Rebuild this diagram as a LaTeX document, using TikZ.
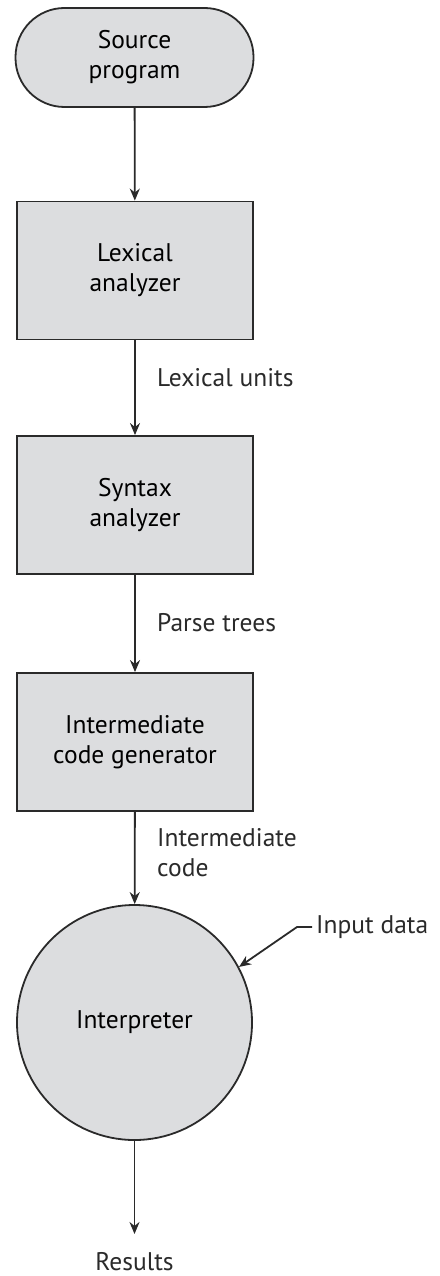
\documentclass[tikz,border=0pt]{standalone}
\usepackage{fontspec}
\setmainfont{PT Sans}
\usetikzlibrary{arrows.meta}
\definecolor{boxfill}{HTML}{DCDDDF}
\definecolor{ink}{HTML}{2A2A2A}
\tikzset{
  base/.style={draw=ink, line width=1.8pt, fill=boxfill, align=center, font=\fontsize{25.5}{30}\selectfont, inner sep=0pt},
  procbox/.style={base, rectangle, minimum width=236pt, minimum height=138pt},
  termbox/.style={base, rectangle, rounded corners=49pt, minimum width=238pt, minimum height=99pt},
  circbox/.style={base, circle, minimum size=235pt},
  lbl/.style={font=\fontsize{25.5}{30}\selectfont, align=left, inner sep=0pt, text=ink},
  flow/.style={draw=ink, line width=1.8pt, -{Stealth[length=12pt,width=10pt]}}
}
\begin{document}
\begin{tikzpicture}[x=1pt,y=-1pt]
\useasboundingbox (0,0) rectangle (439,1276);
\node[termbox] (src) at (134.5,57.5) {Source\\program};
\node[procbox] (lex) at (135,270.5) {Lexical\\analyzer};
\node[procbox] (syn) at (135,505) {Syntax\\analyzer};
\node[procbox] (icg) at (135,742) {Intermediate\\code generator};
\node[circbox] (int) at (134.5,1022.5) {Interpreter};
\node[lbl, anchor=center] (res) at (134.5,1262) {Results};
\node[lbl, anchor=west] (lu) at (157,378) {Lexical units};
\node[lbl, anchor=west] (pt) at (157,623) {Parse trees};
\node[lbl, anchor=west] (ic) at (157,853) {Intermediate\\code};
\node[lbl, anchor=west] (inp) at (316,927) {Input data};
\coordinate (inbend) at (297,927);
\coordinate (resend) at (134.5,1234);
\draw[flow] (src) -- (lex);
\draw[flow] (lex) -- (syn);
\draw[flow] (syn) -- (icg);
\draw[flow] (icg) -- (int);
\draw[flow] (int) -- (resend);
\draw[flow] ([xshift=-4pt]inp.west) -- (inbend) -- (int.28);
\end{tikzpicture}
\end{document}
